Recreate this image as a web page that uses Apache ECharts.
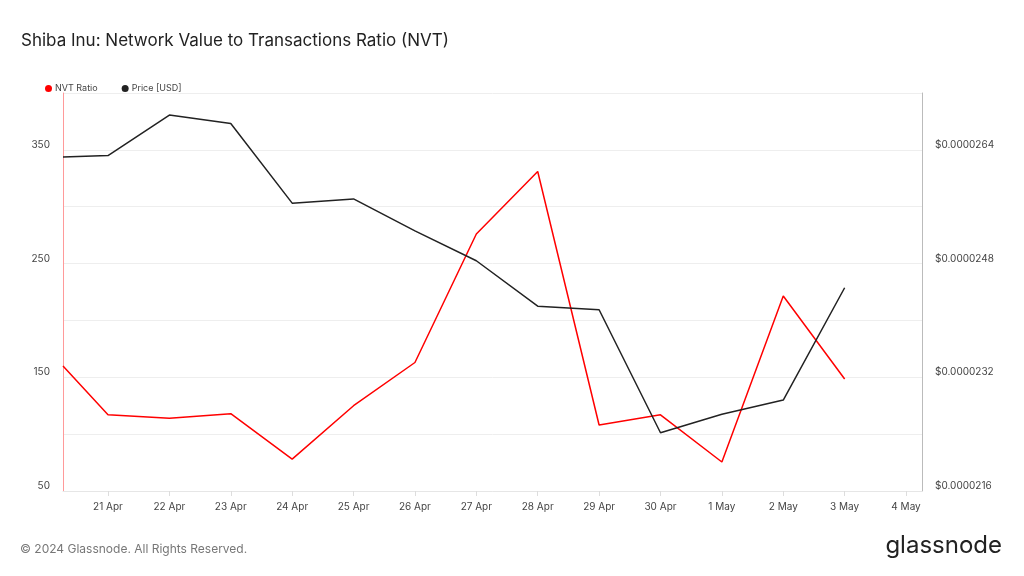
<!DOCTYPE html>
<html><head><meta charset="utf-8">
<script src="https://cdn.jsdelivr.net/npm/echarts@6/dist/echarts.min.js"></script>
<style>body{margin:0;background:#fff}#c{width:1024px;height:576px}</style>
</head><body><div id="c"></div>
<script>
// day index: 1 = 21 Apr
var dayIdx = [0.267, 1, 2, 3, 4, 5, 6, 7, 8, 9, 10, 11, 12, 13];
var xLabels = ['21 Apr', '22 Apr', '23 Apr', '24 Apr', '25 Apr', '26 Apr', '27 Apr', '28 Apr', '29 Apr', '30 Apr', '1 May', '2 May', '3 May', '4 May'];
var nvt = [160, 117, 114, 118, 78, 125, 163, 276, 331, 108, 117, 75.5, 221.5, 148.5];
var price = [0.00002630, 0.00002632, 0.00002689, 0.00002677, 0.00002565, 0.00002571, 0.00002526, 0.00002484, 0.00002420, 0.00002415, 0.00002242, 0.00002268, 0.00002288, 0.00002446];

function pairs(xs, ys) {
	var out = [];
	for (var i = 0; i < xs.length; i++) out.push([xs[i], ys[i]]);
	return out;
}
var ticks = xLabels.map(function (l, i) { return i + 1; });

var myChart = echarts.init(document.getElementById('c'));
var option = {
	textStyle : { fontFamily : 'Inter' },
	title : {
		text : 'Shiba Inu: Network Value to Transactions Ratio (NVT)',
		left : 16, top : 27,
		textStyle : { fontSize : 17, fontWeight : 'normal', color : '#222', fontFamily : 'Inter' }
	},
	legend : {
		left : 40, top : 79, itemWidth : 7, itemHeight : 7, itemGap : 24,
		icon : 'circle',
		textStyle : { fontSize : 9, color : '#444', padding : [0, 0, 0, -2] },
		data : [ 'NVT Ratio', 'Price [USD]' ]
	},
	graphic : [
		{ type : 'text', left : 20, top : 543, style : { text : '© 2024 Glassnode. All Rights Reserved.', fill : '#777', fontSize : 12, fontFamily : 'Inter' } },
		{ type : 'text', right : 22, top : 534, style : { text : 'glassnode', fill : '#222', fontSize : 24, fontFamily : 'Inter' } }
	],
	grid : { left : 63, right : 102, top : 93, bottom : 85 },
	xAxis : {
		type : 'value', min : 0.267, max : 14.26,
		splitLine : { show : false },
		axisLine : { lineStyle : { color : '#e6e6e6' } },
		axisTick : { show : true, customValues : ticks, length : 5, lineStyle : { color : '#ddd' } },
		axisLabel : {
			customValues : ticks, color : '#444', fontSize : 10, margin : 11,
			formatter : function (v) { return xLabels[Math.round(v) - 1] || ''; }
		}
	},
	yAxis : [ {
		type : 'value', min : 50, max : 400, interval : 50, position : 'left',
		axisLine : { show : true, onZero : false, lineStyle : { color : '#ff9a9a', width : 1 } },
		axisTick : { show : false },
		splitLine : { lineStyle : { color : '#eeeeee' } },
		axisLabel : {
			color : '#444', fontSize : 10, margin : 13, verticalAlign : 'bottom',
			formatter : function (v) { return (v - 50) % 100 === 0 && v < 400 ? String(v) : ''; }
		}
	}, {
		type : 'value', min : 0.0000216, max : 0.0000272, interval : 0.0000008, position : 'right',
		axisLine : { show : true, onZero : false, lineStyle : { color : '#bbbbbb' } },
		axisTick : { show : false },
		splitLine : { show : false },
		axisLabel : {
			color : '#444', fontSize : 10, margin : 13, verticalAlign : 'bottom',
			formatter : function (v) {
				var k = Math.round((v - 0.0000216) / 0.0000008);
				return k % 2 === 0 && k < 7 ? '$' + v.toFixed(7) : '';
			}
		}
	} ],
	series : [ {
		name : 'NVT Ratio', type : 'line', yAxisIndex : 0,
		data : pairs(dayIdx, nvt), showSymbol : false,
		itemStyle : { color : '#ff0000' }, lineStyle : { color : '#ff0000', width : 1.5 }
	}, {
		name : 'Price [USD]', type : 'line', yAxisIndex : 1,
		data : pairs(dayIdx, price), showSymbol : false,
		itemStyle : { color : '#222' }, lineStyle : { color : '#222', width : 1.5 }
	} ]
};
myChart.setOption(option);
</script></body></html>
